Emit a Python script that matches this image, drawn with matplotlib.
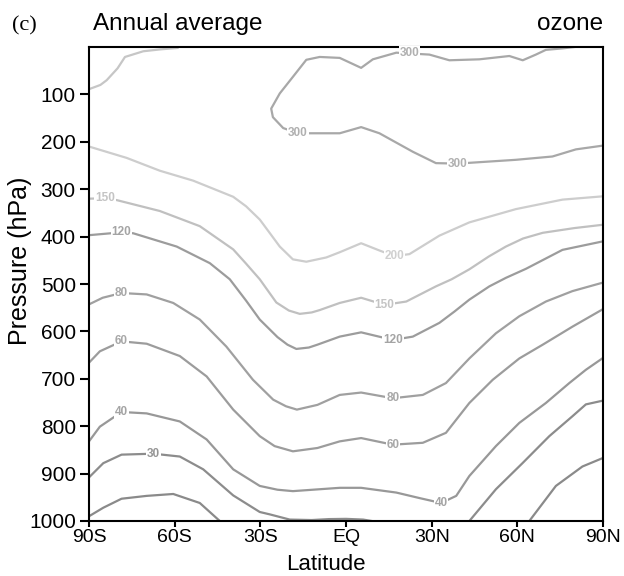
import numpy as np
import matplotlib
matplotlib.use('Agg')
import matplotlib.pyplot as plt

plt.rcParams['font.family'] = ['Liberation Sans', 'DejaVu Sans']

############################# DATA #############################
# contour lines: latitude (deg, S<0) and pressure (hPa)
LAT_300 = [80, 75.7, 70, 66.5, 61.9, 57.2, 46.7, 36.2, 29.2, 17.6, 9.4, 5.3, -2.2,
           -9.2, -13.9, -18.6, -23.2, -26.2, -25.6, -22, -16.8, -2.2, 5.3, 11.7,
           23.4, 31.5, 39.1, 46.7, 59.5, 72.3, 80.5, 90]
P_300 = [0, 3, 6, 16, 28, 19, 26, 28, 16, 12, 26, 44, 23, 21, 27, 63, 98, 130,
         148, 171, 182, 182, 169, 182, 221, 245, 246, 243, 238, 231, 216, 208]

LAT_TOP = [-90, -86, -83.8, -80, -77.4, -71, -65, -59]
P_TOP = [89, 80, 70, 45, 21, 9, 5, 2]

LAT_200 = [-90, -76.8, -65.2, -53.5, -39.5, -35, -30.2, -27, -23.2, -18.6, -13.9,
           -6.9, -2.2, 5.3, 12, 17, 22.2, 32.7, 43.2, 59.5, 75.8, 90]
P_200 = [210, 234, 261, 282, 316, 336, 364, 390, 421, 448, 453, 444, 433, 414,
         430, 441, 437, 398, 370, 342, 322, 315]

LAT_150 = [-90, -84.4, -80.3, -65.2, -51.2, -39.5, -35, -30.2, -24.4, -20, -16.2,
           -12, -9.2, -2.2, 5.3, 13.5, 21.1, 31.5, 37, 43.2, 50, 56, 62, 68.9, 80, 90]
P_150 = [320, 319, 323, 346, 378, 427, 457, 490, 539, 556, 563, 560, 555, 540,
         529, 544, 537, 505, 490, 469, 442, 421, 404, 392, 382, 375]

LAT_120 = [-90, -78.6, -74.5, -59.3, -47.7, -40.7, -35, -30.2, -24, -20.5, -17.4,
           -13, -10, -2.2, 5.3, 16.4, 23.4, 32.7, 38, 43.2, 50.2, 56, 63, 75.8, 90]
P_120 = [397, 391, 393, 421, 456, 490, 535, 575, 612, 628, 637, 634, 628, 611,
         602, 618, 611, 582, 558, 533, 505, 487, 468, 428, 410]

LAT_80 = [-90, -85.2, -78.6, -69.8, -60.5, -51.2, -41.9, -32.6, -25.5, -21, -17.2,
          -10, -2.2, 5.3, 16.4, 26.9, 35, 43.2, 52.5, 60.7, 70, 79.3, 90]
P_80 = [543, 529, 519, 522, 540, 575, 632, 702, 744, 758, 765, 755, 734, 729,
        741, 734, 709, 657, 604, 568, 537, 515, 497]

LAT_60 = [-90, -86.2, -78.6, -69.8, -58.2, -48.8, -39.5, -30.2, -25, -18.6, -10,
          -2.2, 5.3, 16.4, 26.9, 35, 43.2, 51.4, 60.7, 68.9, 79.3, 90]
P_60 = [666, 642, 621, 626, 652, 695, 765, 821, 842, 853, 846, 832, 825, 839,
        835, 814, 751, 702, 657, 628, 590, 553]

LAT_40 = [-90, -86.2, -78.6, -69.8, -58.2, -48.8, -39.5, -30.2, -24, -18.6, -2.2,
          5.3, 17.6, 26, 33.3, 38.6, 43.2, 52.5, 60.7, 70, 78.2, 84, 90]
P_40 = [832, 801, 770, 773, 790, 828, 891, 926, 934, 937, 930, 930, 940, 952,
        962, 947, 905, 842, 793, 751, 709, 681, 656]

LAT_30_S = [-90, -85, -78.6, -67.5, -58.2, -50, -39.5, -30.2, -26.7, -19.7, -12,
            -6, 0, 6, 9]
P_30_S = [908, 878, 860, 858, 864, 891, 946, 981, 986, 997, 998, 996, 995.5,
          997, 1000]
LAT_30_N = [43.2, 52.5, 61.8, 71.2, 79.3, 84, 90]
P_30_N = [1000, 933, 878, 821, 779, 754, 746]

LAT_20_S = [-90, -85, -78.6, -69.8, -60.5, -51.2, -44.2]
P_20_S = [990, 972, 953, 947, 943, 962, 1000]
LAT_20_N = [64.2, 73.5, 82.8, 90]
P_20_N = [1000, 926, 885, 867]

# contour labels
LABEL_TXT = ['300', '300', '300', '200', '150', '150', '120', '120', '80', '80',
             '60', '60', '40', '40', '30']
LABEL_LAT = [22.2, -16.8, 39.1, 17, -84.4, 13.5, -78.6, 16.4, -78.6, 16.4,
             -78.6, 16.4, -78.6, 33.3, -67.5]
LABEL_P = [12, 182, 246, 441, 319, 544, 391, 618, 519, 741, 621, 839, 770, 962, 858]

XTICKS = [-90, -60, -30, 0, 30, 60, 90]
XTICKLABELS = ['90S', '60S', '30S', 'EQ', '30N', '60N', '90N']
YTICKS = [100, 200, 300, 400, 500, 600, 700, 800, 900, 1000]


############################# PLOT #############################
def main():
    fig = plt.figure(figsize=(6.24, 5.76), dpi=100)
    ax = fig.add_axes([89/624, 1-521/576, 514/624, 474/576])

    lines = [
        (LAT_TOP, P_TOP, '#c6c6c6'),
        (LAT_300, P_300, '#a8a8a8'),
        (LAT_200, P_200, '#cdcdcd'),
        (LAT_150, P_150, '#c0c0c0'),
        (LAT_120, P_120, '#9c9c9c'),
        (LAT_80, P_80, '#a0a0a0'),
        (LAT_60, P_60, '#9c9c9c'),
        (LAT_40, P_40, '#989898'),
        (LAT_30_S, P_30_S, '#8c8c8c'),
        (LAT_30_N, P_30_N, '#8c8c8c'),
        (LAT_20_S, P_20_S, '#8a8a8a'),
        (LAT_20_N, P_20_N, '#8a8a8a'),
    ]
    for lat, p, col in lines:
        ax.plot(lat, p, color=col, lw=1.6, solid_joinstyle='round')

    lab_col = {'300': '#b0b0b0', '200': '#d0d0d0', '150': '#c4c4c4',
               '120': '#a4a4a4', '80': '#a8a8a8', '60': '#a8a8a8',
               '40': '#a4a4a4', '30': '#969696'}
    for txt, la, pp in zip(LABEL_TXT, LABEL_LAT, LABEL_P):
        ax.text(la, pp, txt, ha='center', va='center', fontsize=8.5,
                fontweight='bold', color=lab_col[txt],
                bbox=dict(facecolor='white', edgecolor='none', pad=0.6))

    ax.set_xlim(-90, 90)
    ax.set_ylim(1000, 0)
    ax.set_xticks(XTICKS)
    ax.set_xticklabels(XTICKLABELS)
    ax.set_yticks(YTICKS)
    ax.tick_params(axis='both', direction='out', length=6.5, width=1.5,
                   labelsize=15, top=False, right=False)
    ax.tick_params(axis='x', length=4.5, labelsize=14, pad=1)
    ax.tick_params(axis='y', pad=3)
    for s in ax.spines.values():
        s.set_linewidth(1.5)

    fig.text(326/624, 1-575/576, 'Latitude', ha='center', va='bottom', fontsize=16)
    fig.text(20/624, 1-261/576, 'Pressure (hPa)', ha='center', va='center',
             rotation=90, fontsize=18)
    fig.text(93/624, 1-30/576, 'Annual average', ha='left', va='baseline', fontsize=17.5)
    fig.text(603/624, 1-30/576, 'ozone', ha='right', va='baseline', fontsize=17.5)
    fig.text(12/624, 1-30/576, '(c)', ha='left', va='baseline', fontsize=16,
             family='Liberation Serif')

    fig.savefig('out.png', dpi=100)


if __name__ == "__main__":
    main()
